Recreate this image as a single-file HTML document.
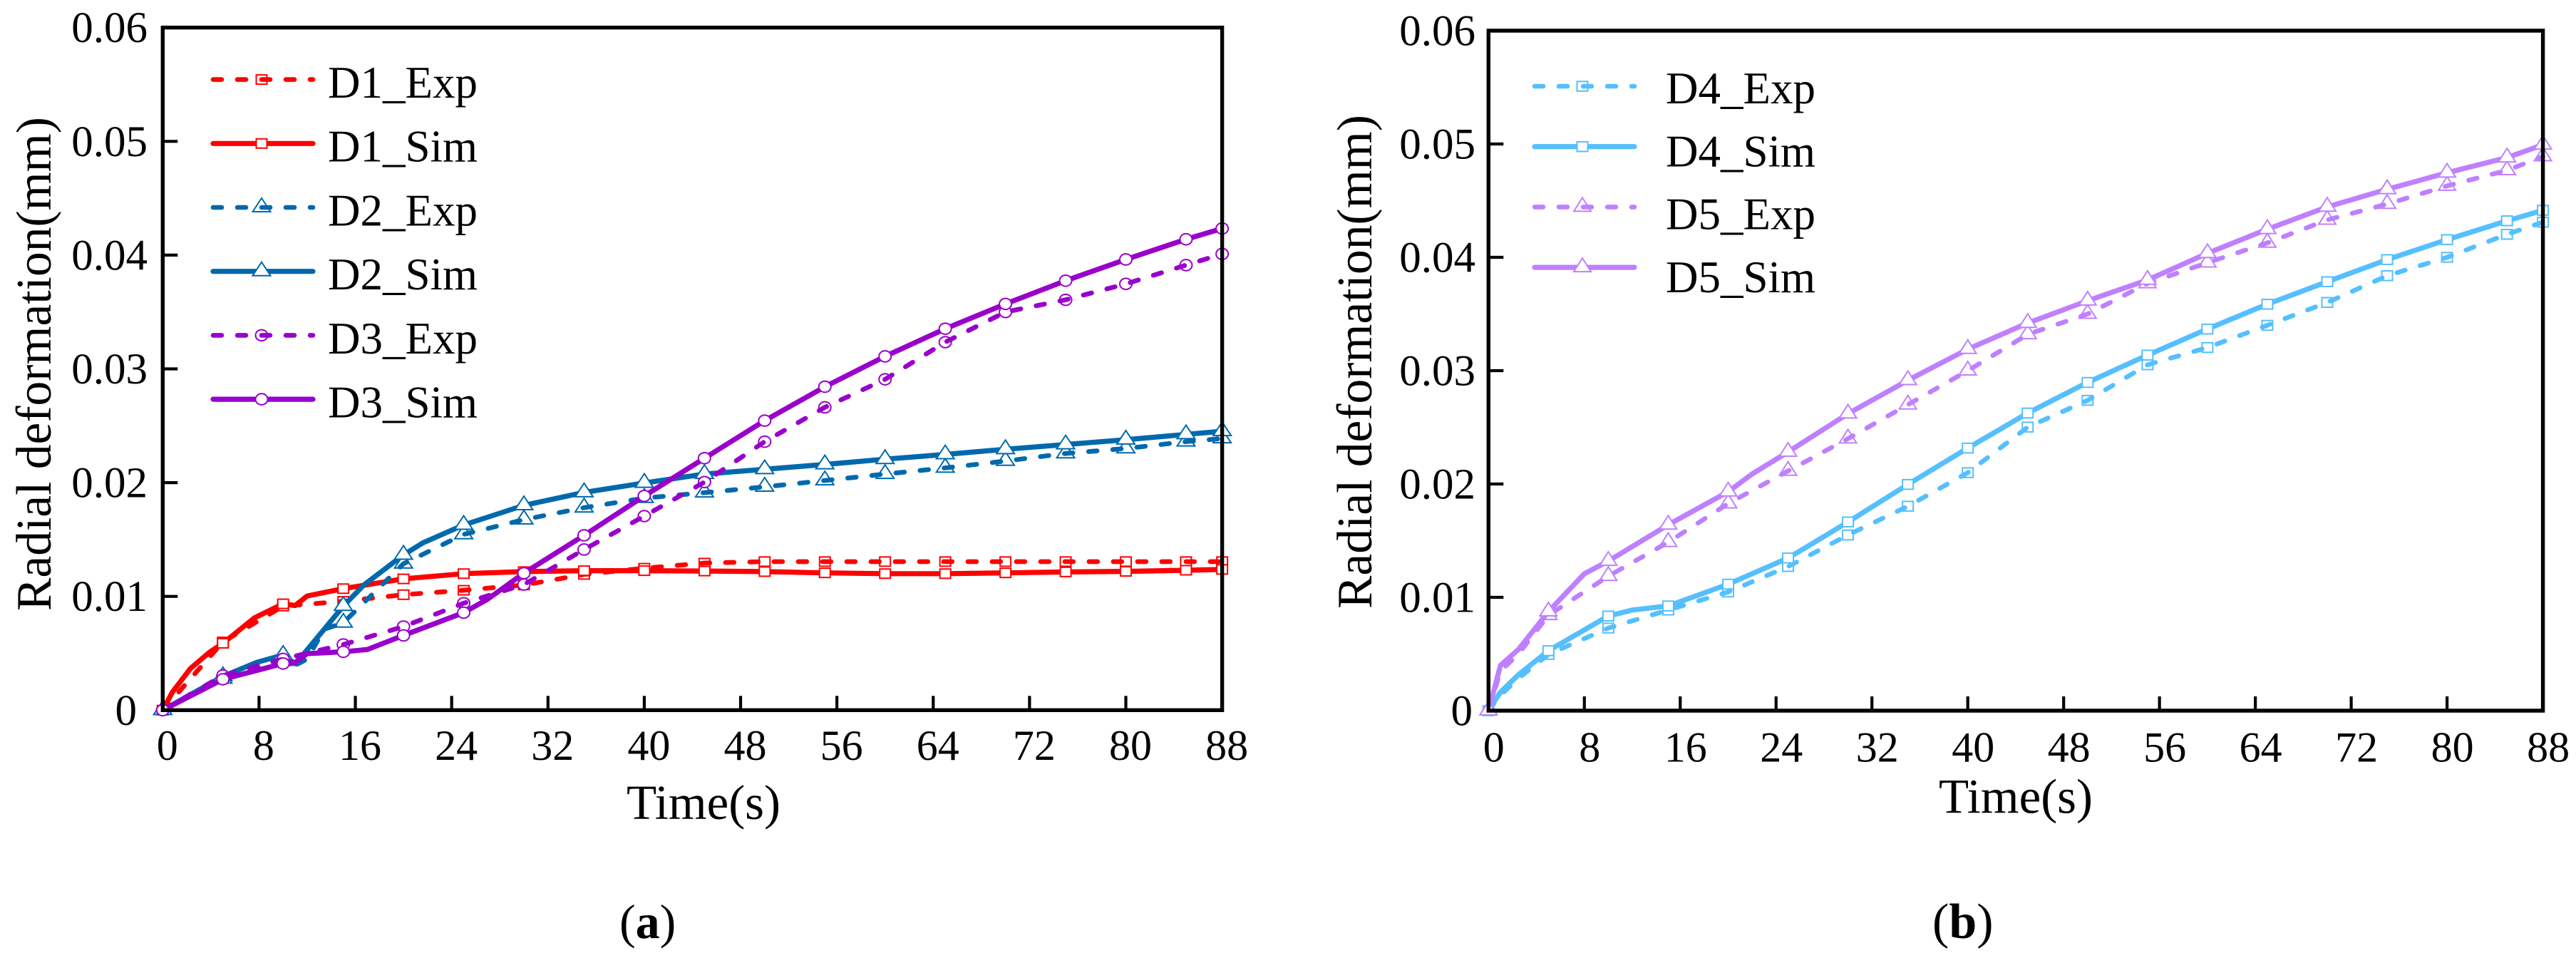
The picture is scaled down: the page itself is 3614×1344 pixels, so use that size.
<!DOCTYPE html>
<html lang="en">
<head>
<meta charset="utf-8">
<title>Radial deformation over time</title>
<style>
html,body{margin:0;padding:0;background:#fff;width:3614px;height:1344px;overflow:hidden}
svg{display:block}
text{font-family:"Liberation Serif",serif;fill:#000}
</style>
</head>
<body>
<svg id="figure" xmlns="http://www.w3.org/2000/svg" width="3614" height="1344" viewBox="0 0 3614 1344">
  <rect x="0" y="0" width="3614" height="1344" fill="#fff"/>
  <text x="869" y="1316" font-size="68">(<tspan font-weight="bold">a</tspan>)</text>
  <text x="2711" y="1316" font-size="70">(<tspan font-weight="bold">b</tspan>)</text>
</svg>
<script>
const xTicks = [0,8,16,24,32,40,48,56,64,72,80,88];
const yTicks = [0,0.01,0.02,0.03,0.04,0.05,0.06];
const yTickLabels = ["0","0.01","0.02","0.03","0.04","0.05","0.06"];
const markerTimes = [0,5,10,15,20,25,30,35,40,45,50,55,60,65,70,75,80,85,88];

const d1Exp = [0,0.0060,0.00915,0.00957,0.01015,0.01054,0.0110,0.01193,0.01248,0.01293,0.01306,0.01306,0.01306,0.01306,0.01306,0.01306,0.01306,0.01306,0.01306];
const d1Sim = [0,0.00588,0.00935,0.01068,0.01154,0.0120,0.01218,0.01226,0.01226,0.01223,0.01218,0.01207,0.0120,0.0120,0.01207,0.01215,0.0122,0.0123,0.01237];
const d1SimBendTimes = [0.8,2.3,3.9,7.6,11,12];
const d1SimBendValues = [0.00158,0.00366,0.0051,0.0081,0.0092,0.01004];

const d2Exp = [0,0.00275,0.0043,0.00768,0.01287,0.01545,0.01675,0.0178,0.01864,0.01912,0.01963,0.02019,0.02075,0.0213,0.0219,0.02256,0.0230,0.0236,0.02388];
const d2ExpBendTimes = [11,12,13.4];
const d2ExpBendValues = [0.00394,0.0045,0.0071];
const d2Sim = [0,0.00297,0.00485,0.00915,0.01365,0.01628,0.0180,0.01914,0.01997,0.02075,0.02117,0.0216,0.02206,0.02248,0.02293,0.02335,0.02377,0.02424,0.02452];
const d2SimBendTimes = [7.8,11,11.8,16.7,21.6];
const d2SimBendValues = [0.0042,0.00408,0.00505,0.0110,0.0147];

const d3Exp = [0,0.00305,0.0045,0.00577,0.00735,0.0094,0.01104,0.01412,0.01706,0.02005,0.0236,0.02662,0.02908,0.03235,0.0350,0.03607,0.03747,0.03912,0.0401];
const d3Sim = [0,0.00272,0.0041,0.00513,0.00657,0.00857,0.01204,0.01537,0.01883,0.02215,0.02545,0.02843,0.0311,0.03353,0.03571,0.03775,0.03962,0.04139,0.04234];
const d3SimBendTimes = [11,12,17,27];
const d3SimBendValues = [0.0042,0.00497,0.00533,0.00976];

const d4Exp = [0,0.00496,0.00729,0.00888,0.01047,0.01272,0.0155,0.01804,0.0210,0.02502,0.02738,0.03052,0.03204,0.0340,0.03602,0.03838,0.0400,0.04203,0.0431];
const d4ExpBendTimes = [1,2.5];
const d4ExpBendValues = [0.00136,0.00285];
const d4Sim = [0,0.00529,0.00835,0.00924,0.01116,0.01347,0.01665,0.01996,0.02317,0.02626,0.02896,0.03137,0.03367,0.03586,0.03785,0.0398,0.04156,0.04322,0.04415];
const d4SimBendTimes = [1,2.5,12,22,27];
const d4SimBendValues = [0.00164,0.00317,0.00888,0.01208,0.01473];

const d5Exp = [0,0.00842,0.01187,0.01487,0.01827,0.02115,0.0240,0.0270,0.0300,0.0332,0.0350,0.0377,0.03953,0.04127,0.0433,0.0447,0.0463,0.04767,0.0489];
const d5ExpBendTimes = [1,2.5];
const d5ExpBendValues = [0.0035,0.0050];
const d5Sim = [0,0.00874,0.0132,0.0164,0.01932,0.02283,0.0262,0.02915,0.0319,0.0342,0.03617,0.0380,0.04036,0.04248,0.04445,0.0460,0.04746,0.0488,0.04993];
const d5SimBendTimes = [1,2.5,8,22];
const d5SimBendValues = [0.0040,0.0054,0.01208,0.02088];

const svgNS = "http://www.w3.org/2000/svg";
const root = document.getElementById("figure");

function make(parent, tag, attrs) {
  const el = document.createElementNS(svgNS, tag);
  for (const key in attrs) el.setAttribute(key, attrs[key]);
  parent.appendChild(el);
  return el;
}

function mergePoints(values, bendTimes, bendValues) {
  const pts = markerTimes.map((t, i) => [t, values[i]]);
  (bendTimes || []).forEach((t, i) => pts.push([t, bendValues[i]]));
  return pts.sort((a, b) => a[0] - b[0]);
}

function drawMarker(parent, shape, cx, cy, color, geom, seriesName) {
  let m;
  if (shape === "square") {
    m = make(parent, "rect", {x: cx - geom.sqW / 2, y: cy - geom.sqH / 2, width: geom.sqW, height: geom.sqH, fill: "#fff", stroke: color, "stroke-width": 2});
  } else if (shape === "triangle") {
    m = make(parent, "polygon", {points: (cx) + "," + (cy - 13) + " " + (cx + geom.triW / 2) + "," + (cy + 6) + " " + (cx - geom.triW / 2) + "," + (cy + 6), fill: "#fff", stroke: color, "stroke-width": 2});
  } else {
    m = make(parent, "ellipse", {cx: cx, cy: cy, rx: 8.5, ry: 7.8, fill: "#fff", stroke: color, "stroke-width": 2});
  }
  
  
}

function drawLine(parent, d, color, dashed, seriesName) {
  const attrs = {d: d, fill: "none", stroke: color, "stroke-width": dashed ? 6.6 : 7.2, "stroke-linejoin": "round", "stroke-linecap": "round"};
  if (dashed) attrs["stroke-dasharray"] = "12 22";
  const line = make(parent, "path", attrs);
  
  
}

function drawPanel(cfg) {
  const panel = make(root, "g", {});
  
  

  const xScale = t => cfg.x0 + t * cfg.xPerSecond;
  const yScale = v => cfg.y0 - v * cfg.yPerMm;

  cfg.series.forEach(s => {
    const group = make(panel, "g", {});
    
    
    const pts = mergePoints(s.values, s.bendTimes, s.bendValues);
    const d = pts.map((p, i) => (i ? "L" : "M") + xScale(p[0]).toFixed(1) + " " + yScale(p[1]).toFixed(1)).join(" ");
    const markers = () => markerTimes.forEach((t, i) => drawMarker(group, s.shape, xScale(t), yScale(s.values[i]), s.color, cfg.geom, s.name));
    if (s.dashed) {
      markers();
      drawLine(group, d, s.color, true, s.name);
    } else {
      drawLine(group, d, s.color, false, s.name);
      markers();
    }
  });

  const xEnd = xScale(88);
  const yTop = yScale(0.06);
  const frame = make(panel, "path", {d: "M" + cfg.x0 + " " + yTop + " H" + xEnd + " V" + cfg.y0 + " H" + cfg.x0 + " Z", fill: "none", stroke: "#000", "stroke-width": 5.4, "stroke-linejoin": "miter"});
  
  

  xTicks.forEach(t => {
    const px = xScale(t);
    if (t > 0 && t < 88) {
      const tick = make(panel, "line", {x1: px, x2: px, y1: cfg.y0, y2: cfg.y0 - 20, stroke: "#000", "stroke-width": 4.2});
      
      
    }
    const label = make(panel, "text", {x: px + cfg.xLabelShift, y: cfg.xLabelY, "font-size": 60, "text-anchor": "middle"});
    label.textContent = String(t);
    
    
  });

  yTicks.forEach((v, i) => {
    const py = yScale(v);
    if (v > 0 && v < 0.06) {
      const tick = make(panel, "line", {x1: cfg.x0, x2: cfg.x0 + 21, y1: py, y2: py, stroke: "#000", "stroke-width": 4.2});
      
      
    }
    const label = make(panel, "text", {x: v === 0 ? cfg.yZeroRight : cfg.yLabelRight, y: py + 20.5, "font-size": 61, "text-anchor": "end"});
    label.textContent = yTickLabels[i];
    
    
  });

  const xTitle = make(panel, "text", {x: cfg.xTitleX, y: cfg.xTitleY, "font-size": 69});
  xTitle.textContent = "Time(s)";
  
  

  const yTitle = make(panel, "text", {transform: "translate(" + cfg.yTitleX + " " + cfg.yTitleBottom + ") rotate(-90)", x: 0, y: 0, "font-size": 69.5});
  yTitle.textContent = "Radial deformation(mm)";
  
  

  const legend = make(panel, "g", {});
  
  
  cfg.series.forEach((s, i) => {
    const ly = cfg.legend.lineY + i * cfg.legend.lineStep;
    const d = "M" + cfg.legend.x1 + " " + ly + " H" + cfg.legend.x2;
    const entry = make(legend, "g", {});
    
    
    if (s.dashed) {
      drawMarker(entry, s.shape, cfg.legend.markerX, ly, s.color, cfg.geom, s.name + "-legend");
      drawLine(entry, d, s.color, true, s.name + "-legend");
    } else {
      drawLine(entry, d, s.color, false, s.name + "-legend");
      drawMarker(entry, s.shape, cfg.legend.markerX, ly, s.color, cfg.geom, s.name + "-legend");
    }
    const text = make(entry, "text", {x: cfg.legend.textX, y: cfg.legend.textY + i * cfg.legend.textStep, "font-size": 63});
    text.textContent = s.label;
    
    
  });
}

drawPanel({
  name: "panel-a-chart",
  x0: 228.3, xPerSecond: 16.89, y0: 996.3, yPerMm: 15960,
  xLabelShift: 6.5, xLabelY: 1066, yLabelRight: 207, yZeroRight: 192,
  xTitleX: 879, xTitleY: 1149, yTitleX: 71, yTitleBottom: 857,
  geom: {sqW: 15, sqH: 13, triW: 25},
  legend: {x1: 299, x2: 439, markerX: 367, textX: 460, lineY: 111.6, lineStep: 89.7, textY: 137, textStep: 89.7},
  series: [
    {name: "d1-exp", label: "D1_Exp", color: "#ff0000", dashed: true, shape: "square", values: d1Exp},
    {name: "d1-sim", label: "D1_Sim", color: "#ff0000", dashed: false, shape: "square", values: d1Sim, bendTimes: d1SimBendTimes, bendValues: d1SimBendValues},
    {name: "d2-exp", label: "D2_Exp", color: "#0069ad", dashed: true, shape: "triangle", values: d2Exp, bendTimes: d2ExpBendTimes, bendValues: d2ExpBendValues},
    {name: "d2-sim", label: "D2_Sim", color: "#0069ad", dashed: false, shape: "triangle", values: d2Sim, bendTimes: d2SimBendTimes, bendValues: d2SimBendValues},
    {name: "d3-exp", label: "D3_Exp", color: "#9900cc", dashed: true, shape: "circle", values: d3Exp},
    {name: "d3-sim", label: "D3_Sim", color: "#9900cc", dashed: false, shape: "circle", values: d3Sim, bendTimes: d3SimBendTimes, bendValues: d3SimBendValues}
  ]
});

drawPanel({
  name: "panel-b-chart",
  x0: 2088.3, xPerSecond: 16.81, y0: 997, yPerMm: 15900,
  xLabelShift: 7.5, xLabelY: 1068.5, yLabelRight: 2070, yZeroRight: 2066,
  xTitleX: 2720, xTitleY: 1140.5, yTitleX: 1924, yTitleBottom: 854,
  geom: {sqW: 15, sqH: 13.5, triW: 24},
  legend: {x1: 2153, x2: 2293, markerX: 2220, textX: 2337, lineY: 121, lineStep: 84.7, textY: 145, textStep: 88.3},
  series: [
    {name: "d4-exp", label: "D4_Exp", color: "#55bfff", dashed: true, shape: "square", values: d4Exp, bendTimes: d4ExpBendTimes, bendValues: d4ExpBendValues},
    {name: "d4-sim", label: "D4_Sim", color: "#55bfff", dashed: false, shape: "square", values: d4Sim, bendTimes: d4SimBendTimes, bendValues: d4SimBendValues},
    {name: "d5-exp", label: "D5_Exp", color: "#bf80ff", dashed: true, shape: "triangle", values: d5Exp, bendTimes: d5ExpBendTimes, bendValues: d5ExpBendValues},
    {name: "d5-sim", label: "D5_Sim", color: "#bf80ff", dashed: false, shape: "triangle", values: d5Sim, bendTimes: d5SimBendTimes, bendValues: d5SimBendValues}
  ]
});
</script>
</body>
</html>
